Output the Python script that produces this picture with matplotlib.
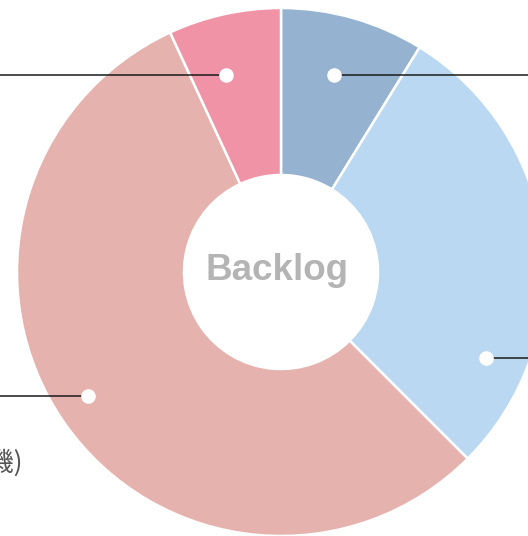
import matplotlib
matplotlib.use("Agg")
import matplotlib.pyplot as plt
import numpy as np

# Data (clockwise from 12 o'clock)
categories = ["Blue-gray", "In progress", "Backlog wait", "Pink"]
values = [8.8, 28.7, 55.6, 6.9]
colors = ["#95B2D0", "#BBD8F2", "#E5B2AE", "#F093A6"]
center_label = "Backlog"
partial_label = "(待機)"

# leader anchor angles (deg clockwise from top), radii (px)
anchor_angles = [15.1, 112.8, 237.3, 344.4]
anchor_radii = [204, 222, 229, 204.5]

W, H = 528, 536
fig = plt.figure(figsize=(W / 100, H / 100), dpi=100)
ax = fig.add_axes([0, 0, 1, 1])

cx, cy = 281, H - 272
R = 264
r_in = 97

ax.pie(values, colors=colors, startangle=90, counterclock=False,
       radius=R, center=(cx, cy), frame=True,
       wedgeprops=dict(width=R - r_in, edgecolor="white", linewidth=1.8))
ax.set_xlim(0, W)
ax.set_ylim(0, H)
ax.set_aspect("equal")
ax.axis("off")

for ang, rad in zip(anchor_angles, anchor_radii):
    t = np.deg2rad(ang)
    x = cx + rad * np.sin(t)
    y = cy + rad * np.cos(t)
    xe = W if x > cx else 0
    ax.plot([x, xe], [y, y], color="#1a1a1a", lw=1.1, zorder=3, solid_capstyle="butt")
    ax.scatter([x], [y], s=110, color="white", zorder=4, linewidths=0)

ax.text(cx - 4, cy + 2, center_label, ha="center", va="center", fontsize=26.5,
        fontweight="bold", color="#B4B4B4", family="Liberation Sans")

ax.text(23, H - 463, partial_label, ha="right", va="center", fontsize=19,
        color="#555555", family=["Noto Sans CJK JP", "DejaVu Sans"])

fig.savefig("out.png", dpi=100)
